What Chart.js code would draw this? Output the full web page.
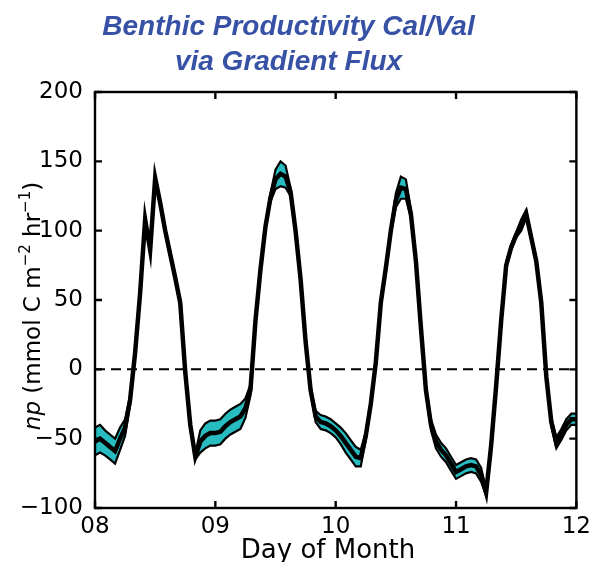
<!DOCTYPE html>
<html>
<head>
<meta charset="utf-8">
<script src="https://cdn.jsdelivr.net/npm/chart.js@4.4.1/dist/chart.umd.min.js"></script>
<style>
  body { margin: 0; background: #fff; }
  canvas { display: block; }
</style>
</head>
<body>
<canvas id="flux" width="596" height="562"></canvas>
<script>
// hourly net production, starting at midnight of day 08
let startDay = 8;
let npMean = [
  -52, -50, -53, -56, -59, -50, -42, -22, 12, 55,
  108, 86, 138, 120, 100, 83, 66, 48, -2, -40,
  -63, -52, -48, -46, -46, -45, -41, -38, -36, -34,
  -28, -15, 35, 72, 103, 124, 137, 141, 139, 128,
  100, 65, 20, -15, -34, -38, -39, -41, -44, -48,
  -53, -58, -63, -64, -48, -25, 5, 48, 73, 100,
  122, 131, 130, 112, 78, 30, -15, -40, -52, -58,
  -62, -68, -74, -72, -70, -69, -70, -76, -89, -55,
  -12, 35, 75, 88, 97, 104, 112, 95, 78, 48,
  -5, -38, -53, -47, -40, -36, -36
];
// half width of the uncertainty band
let npSpread = [
  10, 10, 9, 9, 9, 8, 6, 3, 2, 2,
  2, 2, 2, 2, 2, 2, 2, 2, 2, 2,
  2, 8, 9, 9, 9, 9, 9, 9, 9, 9,
  7, 4, 2, 2, 2, 3, 7, 9, 8, 3,
  2, 2, 2, 2, 4, 5, 5, 5, 5, 6,
  7, 7, 7, 6, 3, 2, 2, 2, 2, 2,
  5, 8, 7, 3, 2, 2, 2, 4, 5, 5,
  5, 5, 5, 5, 5, 5, 5, 5, 2, 2,
  2, 2, 2, 2, 2, 4, 3, 2, 2, 2,
  2, 3, 4, 4, 4, 4, 4
];
let dayTicks = [8, 9, 10, 11, 12];
let npTicks = [-100, -50, 0, 50, 100, 150, 200];

const band = '#26bcc0';
const ink = '#000000';
const labelFont = 'DejaVu Sans';

function pts(vals) {
  return vals.map((v, i) => ({ x: startDay + i / 24, y: v }));
}
let upper = npMean.map((v, i) => v + npSpread[i]);
let lower = npMean.map((v, i) => v - npSpread[i]);

// box, inward ticks and axis titles
const frame = {
  id: 'frame',
  afterDraw(chart) {
    const { ctx, chartArea: a, scales: { x, y } } = chart;
    ctx.save();
    ctx.strokeStyle = ink;
    ctx.lineWidth = 2.4;
    ctx.strokeRect(a.left, a.top, a.right - a.left, a.bottom - a.top);
    ctx.beginPath();
    dayTicks.forEach(d => {
      const px = x.getPixelForValue(d);
      ctx.moveTo(px, a.bottom); ctx.lineTo(px, a.bottom - 7);
      ctx.moveTo(px, a.top); ctx.lineTo(px, a.top + 7);
    });
    npTicks.forEach(v => {
      const py = y.getPixelForValue(v);
      ctx.moveTo(a.left, py); ctx.lineTo(a.left + 7, py);
      ctx.moveTo(a.right, py); ctx.lineTo(a.right - 7, py);
    });
    ctx.stroke();

    ctx.fillStyle = ink;
    ctx.font = '26px "' + labelFont + '"';
    ctx.textAlign = 'center';
    ctx.textBaseline = 'alphabetic';
    ctx.fillText('Day of Month', 328, 558);

    // y title: italic np, superscript exponents
    const parts = [
      { t: 'np', f: 'italic 23px "' + labelFont + '"', dy: 0 },
      { t: ' (mmol C m', f: '23px "' + labelFont + '"', dy: 0 },
      { t: '\u22122', f: '15px "' + labelFont + '"', dy: -10 },
      { t: ' hr', f: '23px "' + labelFont + '"', dy: 0 },
      { t: '\u22121', f: '15px "' + labelFont + '"', dy: -10 },
      { t: ')', f: '23px "' + labelFont + '"', dy: 0 }
    ];
    let total = 0;
    parts.forEach(p => { ctx.font = p.f; p.w = ctx.measureText(p.t).width; total += p.w; });
    ctx.translate(40, 306);
    ctx.rotate(-Math.PI / 2);
    ctx.textAlign = 'left';
    let cx = -total / 2;
    parts.forEach(p => { ctx.font = p.f; ctx.fillText(p.t, cx, p.dy); cx += p.w; });
    ctx.restore();
  }
};

new Chart(document.getElementById('flux'), {
  type: 'line',
  data: {
    datasets: [
      {
        data: pts(upper), borderColor: ink, borderWidth: 2.2,
        backgroundColor: band, fill: '+1', order: 3
      },
      {
        data: pts(lower), borderColor: ink, borderWidth: 2.2,
        fill: false, order: 2
      },
      {
        data: pts(npMean), borderColor: ink, borderWidth: 4.5,
        fill: false, order: 1
      },
      {
        data: [{ x: 8, y: 0 }, { x: 12, y: 0 }], borderColor: ink,
        borderWidth: 2, borderDash: [10, 6], fill: false, order: 4
      }
    ]
  },
  options: {
    responsive: false,
    animation: false,
    layout: { padding: { right: 19 } },
    elements: { point: { radius: 0 }, line: { tension: 0 } },
    plugins: {
      legend: { display: false },
      tooltip: { enabled: false },
      title: {
        display: true,
        text: ['Benthic Productivity Cal/Val', 'via Gradient Flux'],
        color: '#3752a5',
        font: { family: 'Liberation Sans', size: 28, weight: 'bold', style: 'italic', lineHeight: 1.25 },
        padding: { top: 10, bottom: 12 }
      }
    },
    scales: {
      x: {
        type: 'linear', min: 8, max: 12,
        afterFit(s) { s.height = 54; },
        afterBuildTicks(s) { s.ticks = dayTicks.map(v => ({ value: v })); },
        grid: { display: false, drawTicks: false },
        border: { display: false },
        ticks: {
          color: ink, padding: 5, maxRotation: 0,
          font: { family: labelFont, size: 23 },
          callback: v => String(v).padStart(2, '0')
        }
      },
      y: {
        min: -100, max: 200,
        afterFit(s) { s.width = 95; },
        afterBuildTicks(s) { s.ticks = npTicks.map(v => ({ value: v })); },
        grid: { display: false, drawTicks: false },
        border: { display: false },
        ticks: {
          color: ink, padding: 12,
          font: { family: labelFont, size: 23 },
          callback: v => (v < 0 ? '\u2212' + Math.abs(v) : String(v))
        }
      }
    }
  },
  plugins: [frame]
});
</script>
</body>
</html>
